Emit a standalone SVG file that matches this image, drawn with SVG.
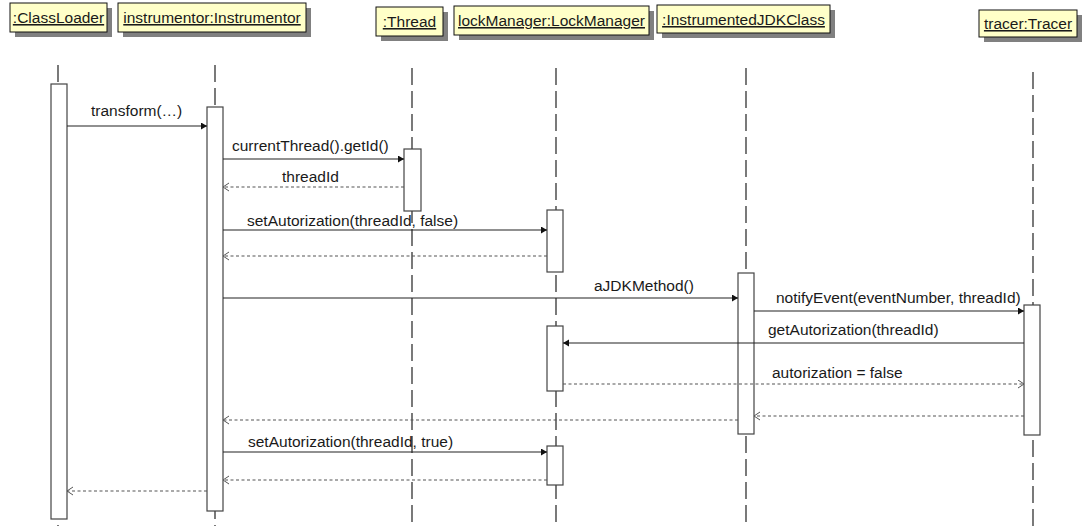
<svg xmlns="http://www.w3.org/2000/svg" width="1084" height="526" viewBox="0 0 1084 526">
<style>
text{font-family:"Liberation Sans",Arial,sans-serif;font-size:15.5px;fill:#1a1a1a}
.head text{text-decoration:underline;text-anchor:middle}
.box{fill:#ffffc8;stroke:#111;stroke-width:1}
.shadow{fill:#808080}
.life{stroke:#222;stroke-width:1.2;stroke-dasharray:17 6;fill:none}
.act{fill:#fff;stroke:#444;stroke-width:1.2}
.call{stroke:#222;stroke-width:1.2;fill:none;marker-end:url(#filled)}
.ret{stroke:#555;stroke-width:1.2;stroke-dasharray:3 2.5;fill:none;marker-end:url(#open)}
</style>
<defs>
<marker id="filled" markerUnits="userSpaceOnUse" markerWidth="8" markerHeight="8" refX="6" refY="3.5" orient="auto">
<path d="M0,0 L6,3.5 L0,7 z" fill="#111"/>
</marker>
<marker id="open" markerUnits="userSpaceOnUse" markerWidth="9" markerHeight="10" refX="7" refY="4.5" orient="auto">
<path d="M1,0.5 L7,4.5 L1,8.5" fill="none" stroke="#555" stroke-width="1"/>
</marker>
</defs>
<rect width="1084" height="526" fill="#fff"/>

<g id="classloader" class="head">
<rect class="shadow" x="15" y="8" width="97" height="29"/>
<rect class="box" x="10" y="3" width="97" height="29"/>
<text x="58.5" y="23">:ClassLoader</text>
<line class="life" x1="58" y1="65" x2="58" y2="526"/>
<rect class="act" x="51" y="84" width="16" height="435"/>
</g>
<g id="instrumentor" class="head">
<rect class="shadow" x="123" y="8" width="188" height="29"/>
<rect class="box" x="118" y="3" width="188" height="29"/>
<text x="212" y="23">instrumentor:Instrumentor</text>
<line class="life" x1="215" y1="65" x2="215" y2="526"/>
<rect class="act" x="207" y="107" width="16" height="404"/>
</g>
<g id="thread" class="head">
<rect class="shadow" x="381" y="12" width="67" height="29"/>
<rect class="box" x="376" y="7" width="67" height="29"/>
<text x="409.5" y="27">:Thread</text>
<line class="life" x1="412" y1="68" x2="412" y2="526"/>
<rect class="act" x="404" y="149" width="17" height="62"/>
</g>
<g id="lockmanager" class="head">
<rect class="shadow" x="459" y="11" width="195" height="29"/>
<rect class="box" x="454" y="6" width="195" height="29"/>
<text x="551.5" y="26">lockManager:LockManager</text>
<line class="life" x1="556" y1="68" x2="556" y2="526"/>
<rect class="act" x="547" y="210" width="16" height="62"/>
<rect class="act" x="547" y="326" width="16" height="65"/>
<rect class="act" x="547" y="446" width="16" height="39"/>
</g>
<g id="instrumentedjdkclass" class="head">
<rect class="shadow" x="662" y="10" width="173" height="28"/>
<rect class="box" x="657" y="5" width="173" height="28"/>
<text x="743.5" y="25">:InstrumentedJDKClass</text>
<line class="life" x1="746" y1="68" x2="746" y2="526"/>
<rect class="act" x="738" y="273" width="16" height="161"/>
</g>
<g id="tracer" class="head">
<rect class="shadow" x="984" y="15" width="98" height="27"/>
<rect class="box" x="979" y="10" width="98" height="27"/>
<text x="1028" y="29">tracer:Tracer</text>
<line class="life" x1="1033" y1="72" x2="1033" y2="526"/>
<rect class="act" x="1024" y="305" width="16" height="130"/>
</g>

<g id="connectors">
<line class="call" x1="67" y1="126" x2="207" y2="126"/>
<text x="91" y="116">transform(…)</text>
<line class="call" x1="223" y1="159" x2="404" y2="159"/>
<text x="232" y="151">currentThread().getId()</text>
<line class="ret" x1="404" y1="187" x2="223" y2="187"/>
<text x="282" y="182">threadId</text>
<line class="call" x1="223" y1="230" x2="547" y2="230"/>
<text x="247" y="226">setAutorization(threadId, false)</text>
<line class="ret" x1="547" y1="256" x2="223" y2="256"/>
<line class="call" x1="223" y1="298" x2="738" y2="298"/>
<text x="594" y="291">aJDKMethod()</text>
<line class="call" x1="754" y1="311" x2="1024" y2="311"/>
<text x="776" y="303">notifyEvent(eventNumber, threadId)</text>
<line class="call" x1="1024" y1="343" x2="563" y2="343"/>
<text x="768" y="335">getAutorization(threadId)</text>
<line class="ret" x1="563" y1="384" x2="1024" y2="384"/>
<text x="772" y="378">autorization = false</text>
<line class="ret" x1="1024" y1="416" x2="754" y2="416"/>
<line class="ret" x1="738" y1="420" x2="223" y2="420"/>
<line class="call" x1="223" y1="452" x2="547" y2="452"/>
<text x="248" y="447">setAutorization(threadId, true)</text>
<line class="ret" x1="547" y1="480" x2="223" y2="480"/>
<line class="ret" x1="207" y1="491" x2="67" y2="491"/>
</g>
</svg>
